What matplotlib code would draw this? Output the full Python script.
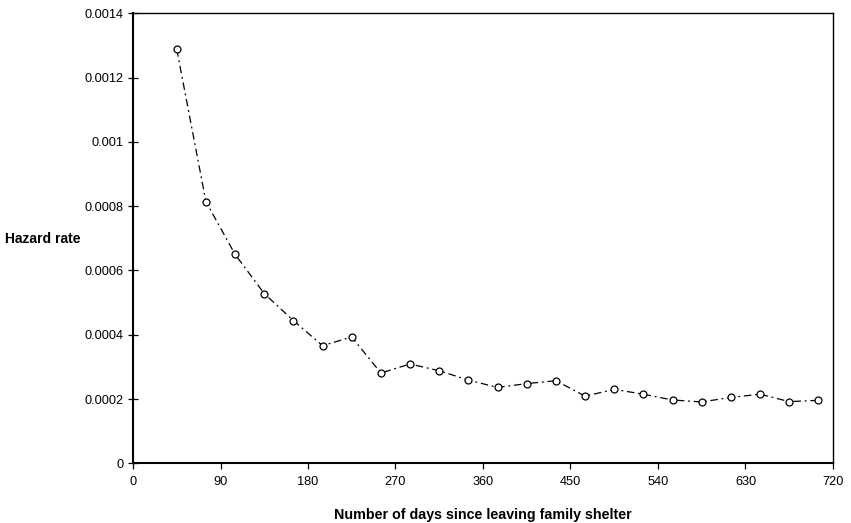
import matplotlib
matplotlib.use("Agg")
import matplotlib.pyplot as plt

days = [45, 75, 105, 135, 165, 195, 225, 255, 285, 315, 345, 375, 405, 435,
        465, 495, 525, 555, 585, 615, 645, 675, 705]
hazard = [0.001288, 0.000814, 0.000650, 0.000528, 0.000444, 0.000366, 0.000393,
          0.000281, 0.000309, 0.000288, 0.000259, 0.000236, 0.000248, 0.000257,
          0.000209, 0.000230, 0.000215, 0.000197, 0.000191, 0.000205, 0.000215,
          0.000192, 0.000196]
xticks = [0, 90, 180, 270, 360, 450, 540, 630, 720]
yticks = [0, 0.0002, 0.0004, 0.0006, 0.0008, 0.001, 0.0012, 0.0014]
ytick_labels = ["0", "0.0002", "0.0004", "0.0006", "0.0008", "0.001", "0.0012", "0.0014"]

plt.rcParams['font.family'] = ['Liberation Sans', 'DejaVu Sans']

fig = plt.figure(figsize=(8.51, 5.23), dpi=100)
ax = fig.add_axes([0.1563, 0.1141, 0.8225, 0.8605])

ax.plot(days, hazard, color='black', linewidth=0.9, linestyle=(0, (6, 3, 1.5, 3)),
        marker='o', markersize=5, markerfacecolor='white', markeredgecolor='black',
        markeredgewidth=0.9)

ax.set_xlim(0, 720)
ax.set_ylim(0, 0.0014)
ax.set_xticks(xticks)
ax.set_xticklabels([str(t) for t in xticks])
ax.set_yticks(yticks)
ax.set_yticklabels(ytick_labels)
ax.tick_params(axis='y', direction='inout', length=7, width=0.9, labelsize=9.2, pad=3)
ax.tick_params(axis='x', direction='out', length=4, width=0.9, labelsize=9.2, pad=5)
for s in ax.spines.values():
    s.set_linewidth(1.0)
    s.set_color('black')
for s in ['left', 'bottom']:
    ax.spines[s].set_linewidth(1.5)

fig.text(0.006, 1 - 239 / 523, "Hazard rate", fontsize=10, fontweight='bold',
         ha='left', va='center')
fig.text(0.1563 + 0.8225 / 2, 1 - 515 / 523, "Number of days since leaving family shelter",
         fontsize=10.3, fontweight='bold', ha='center', va='center')

fig.savefig("out.png", dpi=100)
